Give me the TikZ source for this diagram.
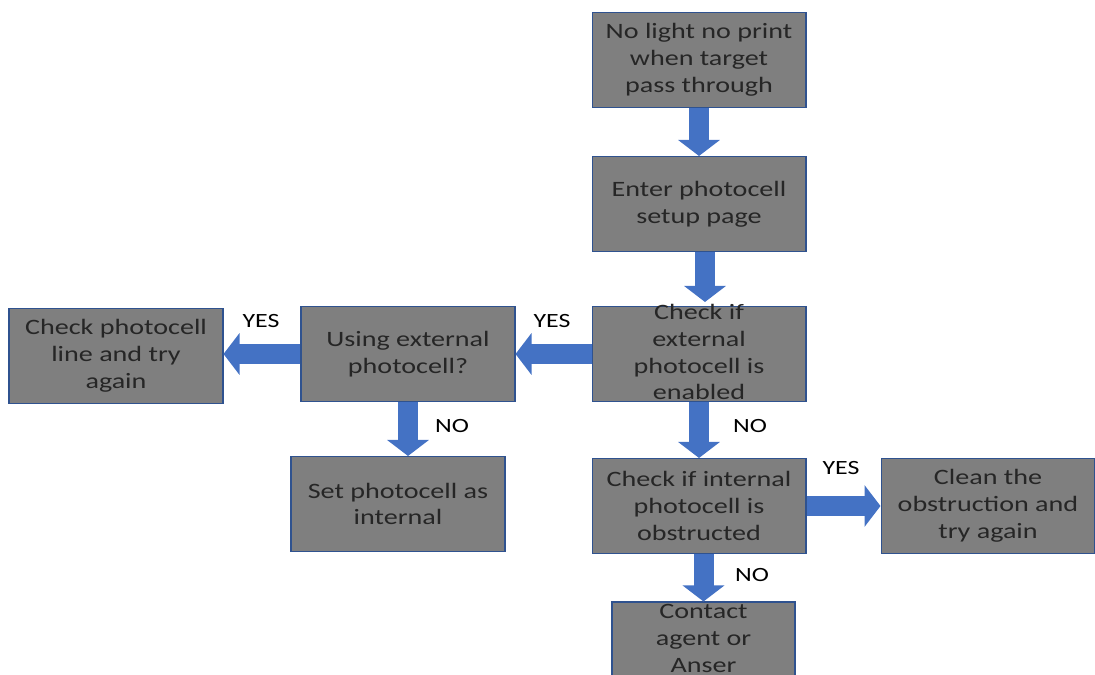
\documentclass[tikz,border=0pt]{standalone}
\usepackage{fontspec}
\setmainfont{Carlito}[FakeStretch=1.28]
\usetikzlibrary{arrows.meta}
\definecolor{boxgray}{HTML}{7F7F7F}
\definecolor{boxline}{HTML}{2F528F}
\definecolor{boxtext}{HTML}{262626}
\definecolor{arrowblue}{HTML}{4472C4}
\begin{document}
\begin{tikzpicture}[x=0.02cm,y=-0.02cm,
  stepbox/.style={fill=boxgray,draw=boxline,line width=0.6pt,text=boxtext,
    minimum width=4.28cm,minimum height=1.9cm,inner sep=0pt,align=center,
    font=\fontsize{12.5}{15.3}\selectfont},
  answer/.style={inner sep=0pt,text=black,font=\fontsize{11.5}{13}\selectfont},
  flow/.style={draw=arrowblue,line width=0.4cm,-{Triangle[width=0.82cm,length=0.32cm]}}]
\useasboundingbox (0,0) rectangle (1095,675);
\node[stepbox] (nolight) at (699,60) {No light no print\\when target\\pass through};
\node[stepbox] (enter) at (699,204) {Enter photocell\\setup page};
\node[stepbox] (chkext) at (699,354) {\smash{\raisebox{-0.25em}{\begin{tabular}{@{}c@{}}Check if\\external\\photocell is\\enabled\end{tabular}}}};
\node[stepbox] (useext) at (408,354) {Using external\\photocell?};
\node[stepbox] (chkline) at (116,356) {Check photocell\\line and try\\again};
\node[stepbox] (setint) at (398,504) {Set photocell as\\internal};
\node[stepbox] (chkint) at (699,506) {Check if internal\\photocell is\\obstructed};
\node[stepbox] (clean) at (988,506) {Clean the\\obstruction and\\try again};
\node[stepbox,minimum width=3.66cm,minimum height=1.52cm] (contact) at (703.5,640) {\smash{\raisebox{-0.25em}{\begin{tabular}{@{}c@{}}Contact\\agent or\\Anser\end{tabular}}}};

\draw[flow] (nolight) -- (enter);
\draw[flow] ([xshift=0.12cm]enter.south) -- ([xshift=0.12cm,yshift=0.08cm]chkext.north);
\draw[flow] (chkext) -- (useext);
\draw[flow] (useext.west) -- (useext.west -| chkline.east);
\draw[flow] (chkext) -- (chkint);
\draw[flow] (useext.south) -- (useext.south |- setint.north);
\draw[flow] (chkint) -- (clean);
\draw[flow] (chkint.south -| contact.north) -- (contact.north);

\node[answer] (yes1) at (261,321) {YES};
\node[answer] (yes2) at (552,321) {YES};
\node[answer] (no1) at (452,426) {NO};
\node[answer] (no2) at (750,426) {NO};
\node[answer] (yes3) at (841,468) {YES};
\node[answer] (no3) at (752,575) {NO};
\end{tikzpicture}
\end{document}
